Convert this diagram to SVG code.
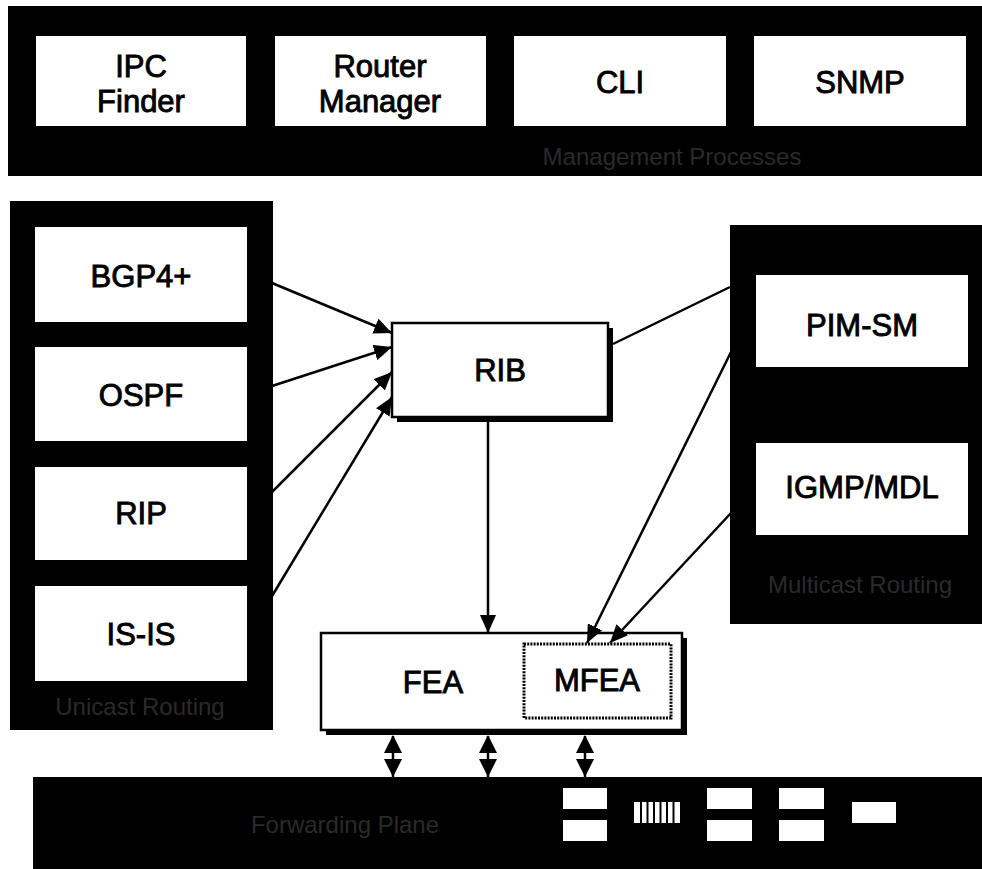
<svg xmlns="http://www.w3.org/2000/svg" width="982" height="869" viewBox="0 0 982 869">
  <style>
    .panel { fill: #000; }
    .box { fill: #fff; }
    .lbl { font-family: "Liberation Sans", Arial, sans-serif; font-size: 31px; fill: #000; stroke: #000; stroke-width: 0.9; text-anchor: middle; }
    .dim { font-family: "Liberation Sans", Arial, sans-serif; font-size: 24px; fill: #2a2a2a; text-anchor: middle; }
    .edge { stroke: #000; stroke-width: 2.5; fill: none; }
    .frame { fill: #fff; stroke: #000; stroke-width: 2.5; }
  </style>
  <defs>
    <marker id="head" markerUnits="userSpaceOnUse" markerWidth="19" markerHeight="16" refX="18" refY="8" orient="auto">
      <path d="M0,0 L18,8 L0,16 z" fill="#000"/>
    </marker>
    <marker id="headStart" markerUnits="userSpaceOnUse" markerWidth="19" markerHeight="18" refX="1" refY="9" orient="auto">
      <path d="M18,0 L0,9 L18,18 z" fill="#000"/>
    </marker>
    <marker id="headEnd" markerUnits="userSpaceOnUse" markerWidth="19" markerHeight="18" refX="18" refY="9" orient="auto">
      <path d="M0,0 L18,9 L0,18 z" fill="#000"/>
    </marker>
  </defs>

  <rect width="982" height="869" fill="#fff"/>

  <!-- Management processes bar -->
  <g id="management">
    <rect class="panel" x="8" y="6" width="974" height="170"/>
    <text class="dim" x="672" y="165">Management Processes</text>
  </g>
  <g id="ipc-finder">
    <rect class="box" x="36" y="36" width="210" height="90"/>
    <text class="lbl" x="141" y="77">IPC</text>
    <text class="lbl" x="141" y="112">Finder</text>
  </g>
  <g id="router-manager">
    <rect class="box" x="275" y="36" width="211" height="90"/>
    <text class="lbl" x="380" y="77">Router</text>
    <text class="lbl" x="380" y="112">Manager</text>
  </g>
  <g id="cli">
    <rect class="box" x="514" y="36" width="212" height="90"/>
    <text class="lbl" x="620" y="93">CLI</text>
  </g>
  <g id="snmp">
    <rect class="box" x="754" y="36" width="212" height="90"/>
    <text class="lbl" x="860" y="93">SNMP</text>
  </g>

  <!-- Unicast routing panel -->
  <g id="unicast">
    <rect class="panel" x="10" y="201" width="263" height="529"/>
    <text class="dim" x="140" y="715">Unicast Routing</text>
  </g>
  <g id="bgp">
    <rect class="box" x="35" y="227" width="212" height="95"/>
    <text class="lbl" x="141" y="287">BGP4+</text>
  </g>
  <g id="ospf">
    <rect class="box" x="35" y="347" width="212" height="94"/>
    <text class="lbl" x="141" y="406">OSPF</text>
  </g>
  <g id="rip">
    <rect class="box" x="35" y="467" width="212" height="93"/>
    <text class="lbl" x="141" y="524">RIP</text>
  </g>
  <g id="isis">
    <rect class="box" x="35" y="586" width="212" height="95"/>
    <text class="lbl" x="141" y="645">IS-IS</text>
  </g>

  <!-- Multicast routing panel -->
  <g id="multicast">
    <rect class="panel" x="730" y="225" width="252" height="399"/>
    <text class="dim" x="860" y="593">Multicast Routing</text>
  </g>
  <g id="pim-sm">
    <rect class="box" x="756" y="275" width="212" height="92"/>
    <text class="lbl" x="862" y="336">PIM-SM</text>
  </g>
  <g id="igmp-mld">
    <rect class="box" x="756" y="443" width="212" height="92"/>
    <text class="lbl" x="862" y="498">IGMP/MDL</text>
  </g>

  <!-- RIB -->
  <g id="rib">
    <rect x="397" y="328" width="216" height="94" fill="#000"/>
    <rect class="frame" x="392" y="323" width="216" height="94"/>
    <text class="lbl" x="500" y="381">RIB</text>
  </g>

  <!-- FEA with embedded MFEA -->
  <g id="fea">
    <rect x="326" y="638" width="361" height="97" fill="#000"/>
    <rect class="frame" x="321" y="633" width="361" height="97"/>
    <text class="lbl" x="433" y="693">FEA</text>
  </g>
  <g id="mfea">
    <rect x="524" y="644" width="147" height="74" fill="none" stroke="#000" stroke-width="3" stroke-dasharray="2 1.2"/>
    <text class="lbl" x="597" y="691">MFEA</text>
  </g>

  <!-- Forwarding plane -->
  <g id="forwarding">
    <rect class="panel" x="33" y="777" width="949" height="92"/>
    <text class="dim" x="345" y="833">Forwarding Plane</text>
    <g fill="#fff">
      <rect x="563" y="788" width="44" height="21"/>
      <rect x="563" y="820" width="44" height="21"/>
      <rect x="707" y="788" width="45" height="21"/>
      <rect x="707" y="820" width="45" height="21"/>
      <rect x="779" y="788" width="45" height="21"/>
      <rect x="779" y="820" width="45" height="21"/>
      <rect x="852" y="802" width="44" height="21"/>
      <rect x="634" y="802" width="46" height="21"/>
    </g>
    <g stroke="#000" stroke-width="2">
      <line x1="641" y1="802" x2="641" y2="823"/>
      <line x1="647.5" y1="802" x2="647.5" y2="823"/>
      <line x1="654" y1="802" x2="654" y2="823"/>
      <line x1="660.5" y1="802" x2="660.5" y2="823"/>
      <line x1="667" y1="802" x2="667" y2="823"/>
      <line x1="673.5" y1="802" x2="673.5" y2="823"/>
    </g>
  </g>

  <!-- Connectors -->
  <g id="connectors">
    <line class="edge" x1="272" y1="283" x2="392" y2="333" marker-end="url(#head)"/>
    <line class="edge" x1="272" y1="386" x2="392" y2="347" marker-end="url(#head)"/>
    <line class="edge" x1="272" y1="492" x2="392" y2="372" marker-end="url(#head)"/>
    <line class="edge" x1="272" y1="596" x2="392" y2="397" marker-end="url(#head)"/>
    <line class="edge" x1="613" y1="344" x2="730" y2="287"/>
    <line class="edge" x1="488" y1="422" x2="488" y2="633" marker-end="url(#head)"/>
    <line class="edge" x1="731" y1="352" x2="587" y2="643" marker-end="url(#head)"/>
    <line class="edge" x1="731" y1="513" x2="610" y2="643" marker-end="url(#head)"/>
    <line class="edge" stroke-width="3.5" x1="393" y1="736" x2="393" y2="777" marker-start="url(#headStart)" marker-end="url(#headEnd)"/>
    <line class="edge" stroke-width="3.5" x1="488" y1="736" x2="488" y2="777" marker-start="url(#headStart)" marker-end="url(#headEnd)"/>
    <line class="edge" stroke-width="3.5" x1="585" y1="736" x2="585" y2="777" marker-start="url(#headStart)" marker-end="url(#headEnd)"/>
  </g>
</svg>
